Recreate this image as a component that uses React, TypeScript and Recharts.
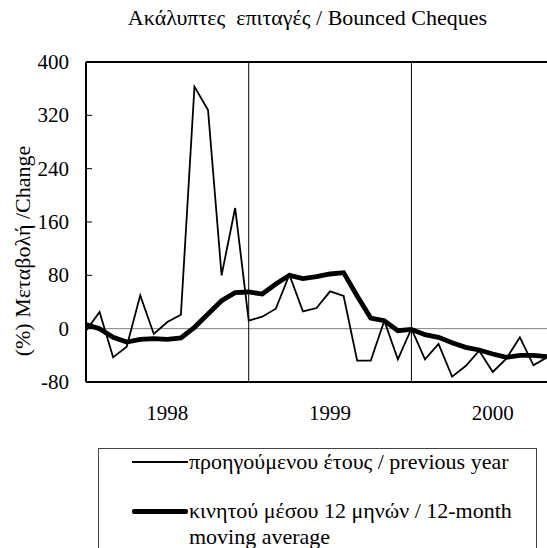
import React from "react"
import { LineChart, Line, XAxis, YAxis, ReferenceLine } from "recharts"

// monthly observations, Jan 1998 .. Nov 2000
const previousYear = [
  -3, 25, -43, -27, 50, -8, 10, 21, 363, 328, 80, 181,
  12, 18, 30, 81, 26, 31, 56, 49, -48, -48, 12, -46,
  0, -46, -23, -72, -56, -33, -65, -45, -13, -55, -43,
]
const movingAverage = [
  6, 0, -13, -20, -16, -15, -16, -14, 2, 22, 42, 54,
  55, 52, 67, 80, 75, 78, 82, 84, 49, 16, 12, -3,
  -1, -9, -13, -21, -28, -32, -38, -43, -40, -40, -42,
]
const yTicks = [-80, 0, 80, 160, 240, 320, 400]
const yearTicks = [6, 18, 30]
const yearLabels = ["1998", "1999", "2000"]
const yearStarts = [12, 24]

const seriesNames = [
  "προηγούμενου έτους / previous year",
  "κινητού μέσου 12 μηνών / 12-month\nmoving average",
]

const data = previousYear.map((v, i) => ({ i, prev: v, avg: movingAverage[i] }))

const font = "'Liberation Serif', 'Times New Roman', serif"

const YTick = ({ x, y, payload }: any) => (
  <g>
    <line x1={x + 17} x2={x + 23} y1={y} y2={y} stroke="#000" strokeWidth={1} />
    <text x={x} y={y} dy={7} textAnchor="end" fontSize={21} fontFamily={font} fill="#000">
      {payload.value}
    </text>
  </g>
)

const XTick = ({ x, y, payload }: any) => (
  <text x={x} y={y} dy={14} textAnchor="middle" fontSize={21} fontFamily={font} fill="#000">
    {yearLabels[yearTicks.indexOf(payload.value)]}
  </text>
)

export default function App() {
  return (
    <div style={{ position: "absolute", left: 0, top: 0, width: 547, height: 548, background: "#fff", fontFamily: font }}>
      <div style={{ position: "absolute", top: 6, left: 0, width: 615, textAlign: "center", fontSize: 22, lineHeight: "24px" }}>
        Ακάλυπτες&nbsp; επιταγές / Bounced Cheques
      </div>
      <LineChart width={547} height={548} data={data} margin={{ top: 62, right: 0, bottom: 136, left: 36 }}>
        <XAxis
          type="number"
          dataKey="i"
          domain={[0, 34]}
          ticks={yearTicks}
          tick={<XTick />}
          tickLine={false}
          tickSize={0}
          tickMargin={24}
          height={30}
          axisLine={{ stroke: "#000", strokeWidth: 2 }}
        />
        <YAxis
          width={50}
          domain={[-80, 400]}
          ticks={yTicks}
          tick={<YTick />}
          tickLine={false}
          tickSize={0}
          tickMargin={17}
          axisLine={{ stroke: "#000", strokeWidth: 2 }}
          label={{
            content: () => (
              <text
                x={25}
                y={251}
                transform="rotate(-90, 25, 251)"
                textAnchor="middle"
                dominantBaseline="middle"
                fontSize={22}
                fontFamily={font}
                fill="#000"
              >
                (%) Μεταβολή /Change
              </text>
            ),
          }}
        />
        <ReferenceLine y={400} stroke="#000" strokeWidth={2} />
        <ReferenceLine y={0} stroke="#808080" strokeWidth={1} />
        {yearStarts.map((m) => (
          <ReferenceLine key={m} x={m} stroke="#000" strokeWidth={1} />
        ))}
        <Line
          dataKey="prev"
          type="linear"
          stroke="#000"
          strokeWidth={1.8}
          dot={false}
          isAnimationActive={false}
        />
        <Line
          dataKey="avg"
          type="linear"
          stroke="#000"
          strokeWidth={4.8}
          dot={false}
          isAnimationActive={false}
        />
      </LineChart>
      <div
        style={{
          position: "absolute",
          left: 98,
          top: 448,
          width: 439,
          height: 110,
          border: "1px solid #444",
          boxSizing: "border-box",
          fontSize: 22,
          lineHeight: "26px",
        }}
      >
        <div style={{ position: "absolute", left: 33, top: 0, display: "flex", alignItems: "flex-start" }}>
          <div style={{ width: 56, height: 2, background: "#000", marginTop: 12 }} />
          <span style={{ marginLeft: 1, whiteSpace: "nowrap" }}>{seriesNames[0]}</span>
        </div>
        <div style={{ position: "absolute", left: 33, top: 49, display: "flex", alignItems: "flex-start" }}>
          <div style={{ width: 56, height: 5, background: "#000", marginTop: 11, borderRadius: 2 }} />
          <span style={{ marginLeft: 1, whiteSpace: "pre" }}>{seriesNames[1]}</span>
        </div>
      </div>
    </div>
  )
}
